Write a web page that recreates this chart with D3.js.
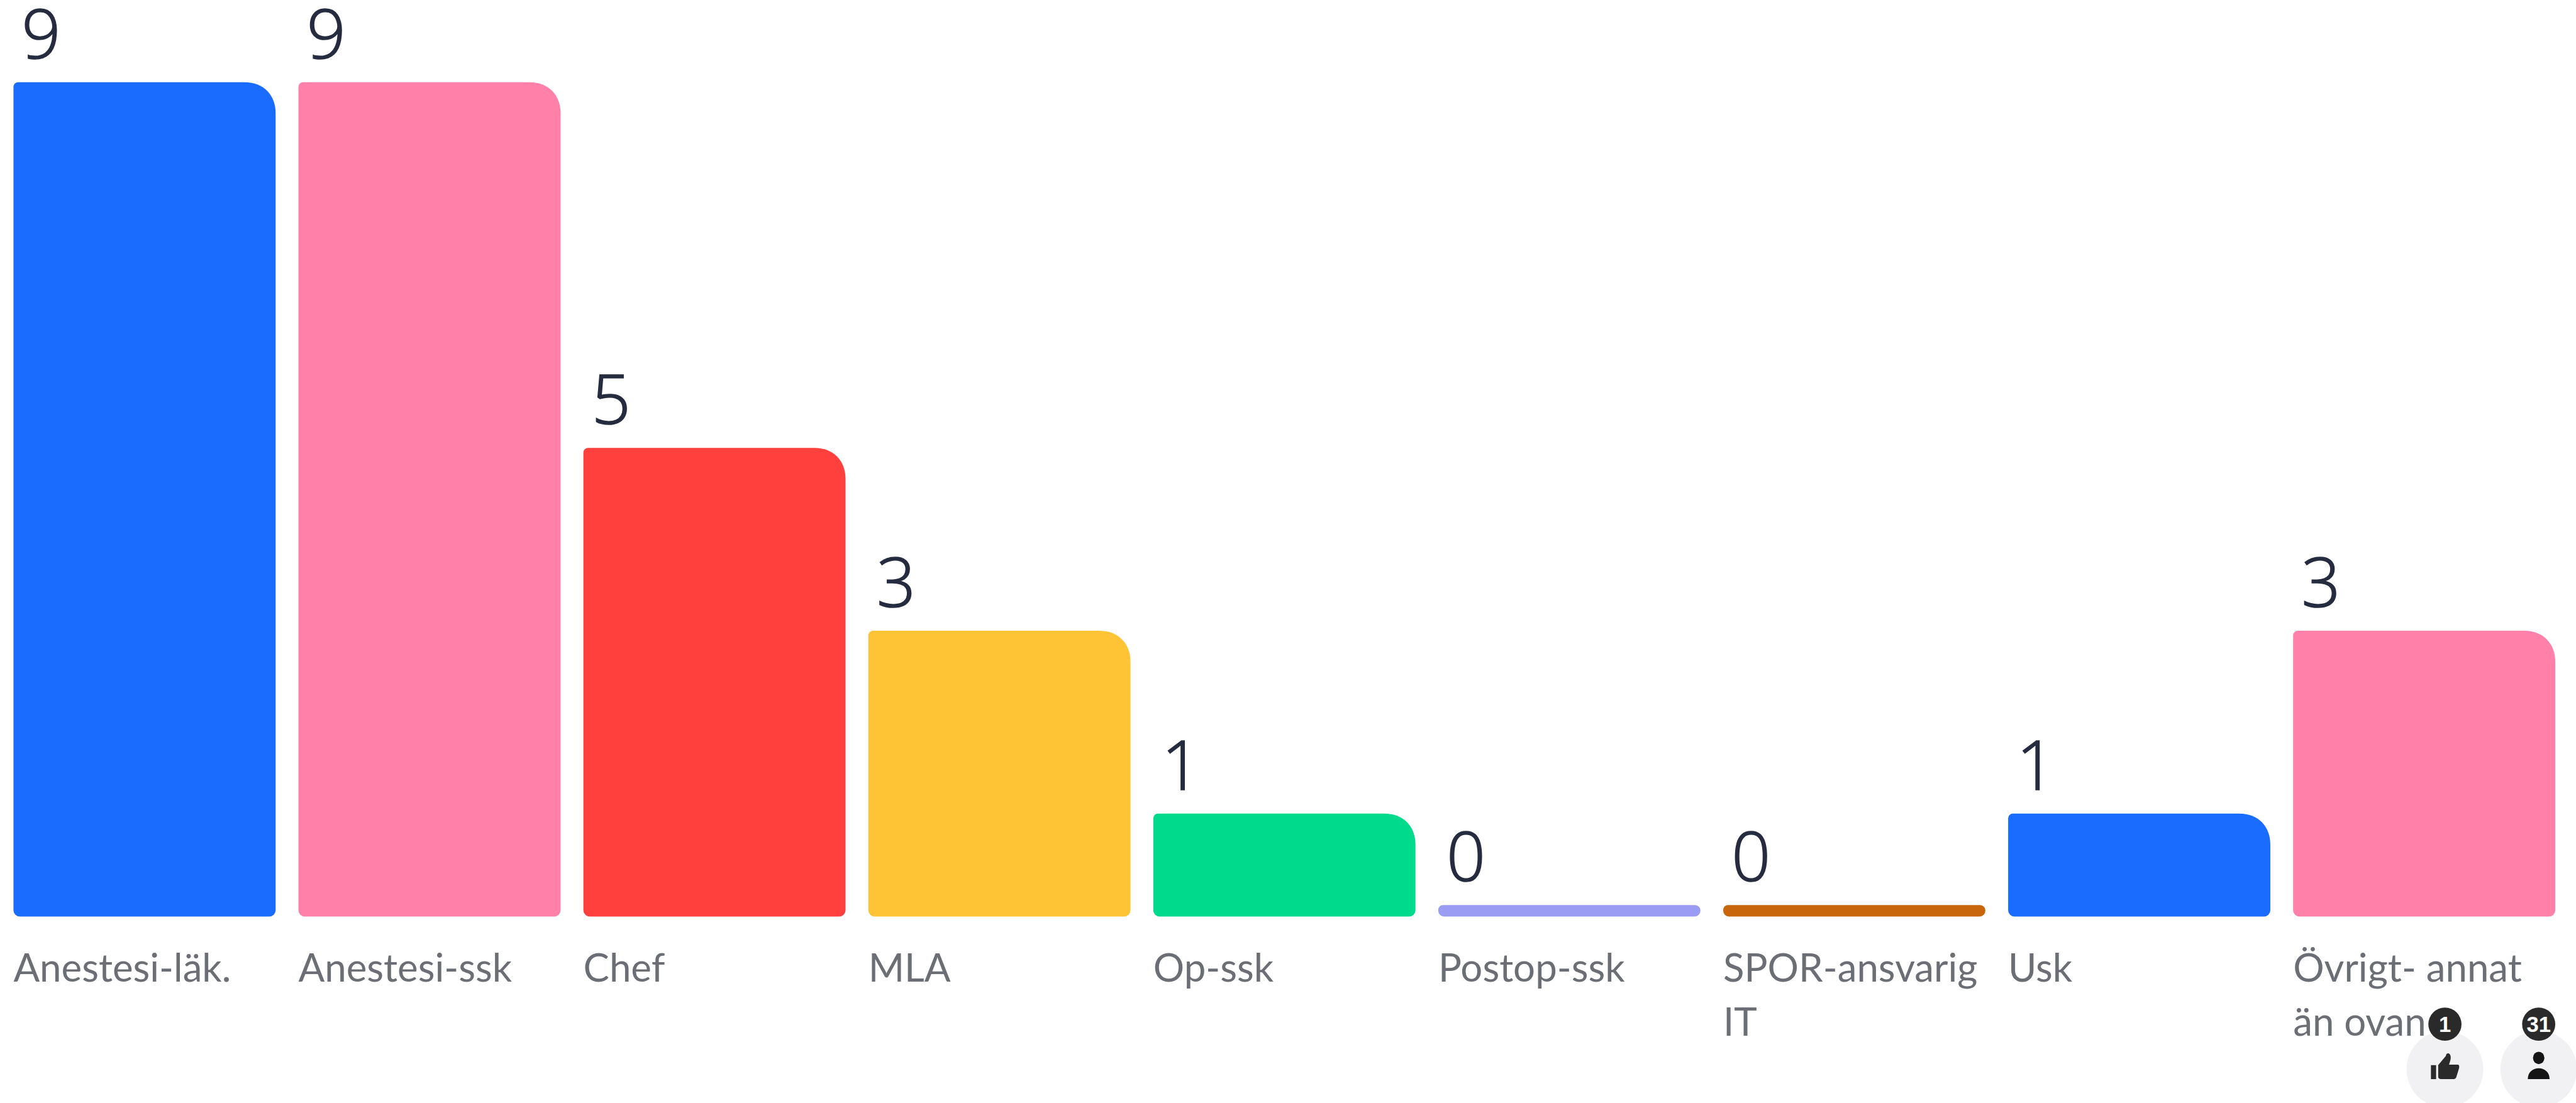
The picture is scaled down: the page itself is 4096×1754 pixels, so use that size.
<!DOCTYPE html>
<html>
<head>
<meta charset="utf-8">
<script src="https://cdn.jsdelivr.net/npm/d3@7"></script>
<style>
  html, body { margin: 0; padding: 0; background: #fff; overflow: hidden; }
  svg { display: block; }
  .value { font-family: "Open Sans", sans-serif; font-weight: 300; font-size: 132px; fill: #262c3f; stroke: #262c3f; stroke-width: 2px; }
  .tick text { font-family: Lato, sans-serif; font-weight: 400; font-size: 75px; fill: #6b6e75; }
  .badge { font-family: "Liberation Sans", sans-serif; font-weight: 700; font-size: 42px; fill: #fff; }
</style>
</head>
<body>
<svg id="chart"></svg>
<script>
// Data
const categories = ["Anestesi-läk.", "Anestesi-ssk", "Chef", "MLA", "Op-ssk", "Postop-ssk", "SPOR-ansvarig IT", "Usk", "Övrigt- annat än ovan"];
const tickLines = [["Anestesi-läk."], ["Anestesi-ssk"], ["Chef"], ["MLA"], ["Op-ssk"], ["Postop-ssk"], ["SPOR-ansvarig", "IT"], ["Usk"], ["Övrigt- annat", "än ovan"]];
const values = [9, 9, 5, 3, 1, 0, 0, 1, 3];
const colors = ["#1a6cff", "#ff80a9", "#ff403d", "#ffc436", "#00da8c", "#9a9cf4", "#c8660c", "#1a6cff", "#ff80a9"];
const badges = [{ label: "1", cx: 4719 }, { label: "31", cx: 4900 }];

// Everything below is in reference pixels, the viewBox shrinks it to the window
const fullWidth = 4972;
const fullHeight = 2129;
const baseline = 1769;
const zeroHeight = 22;

const svg = d3.select("#chart")
  .attr("width", 4096)
  .attr("height", 1754)
  .attr("viewBox", `0 0 ${fullWidth} ${fullHeight}`);

const x = d3.scaleBand().domain(categories).range([26, 4932]).paddingInner(0.08);
const y = d3.scaleLinear().domain([0, 9]).range([baseline - zeroHeight, 158.5]);

// Rounded bar: big radius top right, small everywhere else
function barPath(left, top, width, bottom) {
  const h = bottom - top;
  const big = Math.min(60, h / 2);
  const small = Math.min(9, h / 2);
  const low = Math.min(12, h / 2);
  const right = left + width;
  return `M${left + small},${top}H${right - big}C${right - big * 0.4},${top} ${right},${top + big * 0.4} ${right},${top + big}` +
    `V${bottom - low}A${low},${low} 0 0 1 ${right - low},${bottom}H${left + low}` +
    `A${low},${low} 0 0 1 ${left},${bottom - low}V${top + small}A${small},${small} 0 0 1 ${left + small},${top}Z`;
}

svg.selectAll(".bar")
  .data(categories)
  .join("path")
  .attr("class", "bar")
  .attr("fill", (d, i) => colors[i])
  .attr("d", (d, i) => barPath(x(d), y(values[i]), x.bandwidth(), baseline));

svg.selectAll(".value")
  .data(categories)
  .join("text")
  .attr("class", "value")
  .attr("x", d => x(d) + 16)
  .attr("y", (d, i) => y(values[i]) - 46)
  .text((d, i) => values[i]);

// Category axis, labels left aligned with the bars
const axis = svg.append("g")
  .attr("transform", `translate(0,${baseline})`)
  .call(d3.axisBottom(x).tickSize(0));
axis.select(".domain").remove();
axis.selectAll(".tick text")
  .attr("text-anchor", "start")
  .attr("y", null)
  .attr("dy", null)
  .text(null)
  .each(function (d) {
    const lines = tickLines[categories.indexOf(d)];
    d3.select(this).selectAll("tspan")
      .data(lines)
      .join("tspan")
      .attr("x", -x.bandwidth() / 2)
      .attr("y", (l, i) => 126 + i * 104)
      .text(l => l);
  });
axis.attr("font-size", null).attr("font-family", null);

// Reaction buttons in the lower right corner
const buttons = svg.selectAll(".button")
  .data(badges)
  .join("g")
  .attr("class", "button")
  .attr("transform", d => `translate(${d.cx},2064)`);

buttons.append("circle").attr("r", 74).attr("fill", "#f1f1f3");
buttons.append("circle").attr("cy", -87).attr("r", 32).attr("fill", "#2a2a2a");
buttons.append("text")
  .attr("class", "badge")
  .attr("y", -72)
  .attr("text-anchor", "middle")
  .text(d => d.label);

const thumb = buttons.filter((d, i) => i === 0);
thumb.append("rect").attr("x", -27).attr("y", -8).attr("width", 10).attr("height", 27).attr("fill", "#2a2a2a");
thumb.append("path")
  .attr("fill", "#2a2a2a")
  .attr("d", "M-13,-8L2,-26C2,-32 10,-33 11,-25C12,-19 9,-13 8,-9H25C28,-9 28,-4 27,-1L22,15C21,18 19,19 16,19H-7C-11,19 -13,17 -13,14Z");

const person = buttons.filter((d, i) => i === 1);
person.append("ellipse").attr("cy", -22).attr("rx", 11).attr("ry", 12).attr("fill", "#151515");
person.append("path")
  .attr("fill", "#151515")
  .attr("d", "M-21,19C-21,6 -12,-2 0,-2C12,-2 21,6 21,19Z");
</script>
</body>
</html>
